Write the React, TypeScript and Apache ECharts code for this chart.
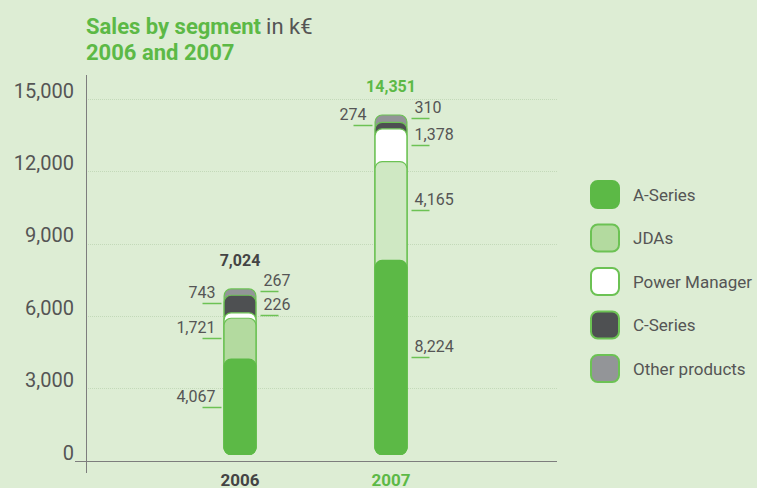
import React, { useEffect, useRef } from "react";
import * as echarts from "echarts";

const years = ["2006", "2007"];
const segmentNames = ["A-Series", "JDAs", "Power Manager", "C-Series", "Other products"];
const aSeries = [4067, 8224];
const jdas = [1721, 4165];
const powerManager = [226, 1378];
const cSeries = [743, 274];
const otherProducts = [267, 310];
const segmentValues = [aSeries, jdas, powerManager, cSeries, otherProducts];

// label side per year per segment (0 = left, 1 = right)
const labelSides = [
  [0, 0, 1, 0, 1],
  [1, 1, 1, 0, 1],
];

const FONT = "Roboto";
const GREEN = "#5cb946";
const BORDER = "#6cc254";
const TEXT = "#555555";
const segmentColors = [
  [GREEN, GREEN],
  ["#b3da9f", "#cfe8c3"],
  ["#ffffff", "#ffffff"],
  ["#4e5052", "#4e5052"],
  ["#939598", "#939598"],
];
const totalColors = ["#444444", GREEN];
const BAR_W = 33;

const fmt = (v: number) => Math.round(v).toLocaleString("en-US");

function cumTop(i: number, j: number) {
  let s = 0;
  for (let k = 0; k <= i; k++) s += segmentValues[k][j];
  return s;
}

export default function App() {
  const ref = useRef<HTMLDivElement>(null);
  useEffect(() => {
    document.body.style.margin = "0";
    const chart = echarts.init(ref.current!, null, { renderer: "svg" });

    const barSeries = segmentNames.map((name, i) => ({
      type: "bar",
      name,
      xAxisIndex: 1,
      yAxisIndex: 1,
      barWidth: BAR_W,
      barGap: "-100%",
      z: 10 - i,
      itemStyle: {
        color: segmentColors[i][0],
        borderColor: i === 0 ? GREEN : BORDER,
        borderWidth: 1.2,
        borderRadius: 7,
      },
      data: years.map((_, j) => {
        const item: any = {
          value: cumTop(i, j),
          itemStyle: { color: segmentColors[i][j] },
        };
        if (i === segmentNames.length - 1) {
          item.label = {
            show: true,
            position: "top",
            distance: 20,
            formatter: (p: any) => fmt(p.value),
            color: totalColors[j],
            fontFamily: FONT,
            fontWeight: "bold",
            fontSize: 16,
          };
        }
        return item;
      }),
    }));

    const labelData: number[][] = [];
    years.forEach((_, j) => {
      segmentNames.forEach((__, i) => {
        const top = cumTop(i, j);
        const bottom = top - segmentValues[i][j];
        labelData.push([j, bottom, top, segmentValues[i][j], labelSides[j][i]]);
      });
    });

    const option: any = {
      animation: false,
      backgroundColor: "#ddedd4",
      title: {
        left: 86,
        top: 13,
        padding: 0,
        text: "{g|Sales by segment} {n|in k€}\n{g|2006 and 2007}",
        textStyle: {
          rich: {
            g: { fontSize: 22, fontWeight: "bold", color: GREEN, fontFamily: FONT, lineHeight: 26 },
            n: { fontSize: 22, fontWeight: "normal", color: TEXT, fontFamily: FONT, lineHeight: 26 },
          },
        },
      },
      legend: {
        data: segmentNames,
        orient: "vertical",
        left: 590,
        top: 180,
        padding: 0,
        itemWidth: 28,
        itemHeight: 27,
        itemGap: 14.5,
        icon: "roundRect",
        selectedMode: false,
        textStyle: { color: TEXT, fontSize: 17, fontFamily: FONT, padding: [0, 0, 0, 9] },
      },
      grid: [
        { left: 86, right: 200, top: 99, bottom: 27 },
        { left: 164.5, right: 290.5, top: 99, bottom: 27 },
      ],
      xAxis: [
        { type: "value", gridIndex: 0, min: 0, max: 1, show: false },
        {
          type: "category",
          gridIndex: 1,
          data: years,
          axisLine: { show: false },
          axisTick: { show: false },
          axisLabel: {
            margin: 16,
            formatter: (v: string, idx: number) => `{y${idx}|${v}}`,
            rich: {
              y0: { color: "#444444", fontWeight: "bold", fontSize: 17, fontFamily: FONT },
              y1: { color: GREEN, fontWeight: "bold", fontSize: 17, fontFamily: FONT },
            },
          },
        },
      ],
      yAxis: [
        {
          type: "value",
          gridIndex: 0,
          min: 0,
          max: 15000,
          interval: 3000,
          axisLine: { show: false },
          axisTick: { show: false },
          splitLine: { show: true, lineStyle: { color: "#c3d9b9", type: "dotted" } },
          axisLabel: {
            color: TEXT,
            fontSize: 20,
            fontFamily: FONT,
            margin: 12,
            verticalAlign: "bottom",
            lineHeight: 17,
            formatter: (v: number) => fmt(v),
          },
        },
        { type: "value", gridIndex: 1, min: 0, max: 15000, interval: 3000, show: false },
      ],
      graphic: [
        { type: "line", shape: { x1: 86.5, y1: 75, x2: 86.5, y2: 473 }, style: { stroke: "#7d7d7d", lineWidth: 1 }, z: 20 },
        { type: "line", shape: { x1: 75, y1: 461.5, x2: 557, y2: 461.5 }, style: { stroke: "#7d7d7d", lineWidth: 1 }, z: 20 },
      ],
      series: [
        ...barSeries,
        {
          type: "custom",
          name: "labels",
          xAxisIndex: 1,
          yAxisIndex: 1,
          z: 20,
          silent: true,
          encode: { x: 0, y: [1, 2] },
          data: labelData,
          renderItem: (params: any, api: any) => {
            const cat = api.value(0);
            const lo = api.value(1);
            const hi = api.value(2);
            const v = api.value(3);
            const side = api.value(4);
            const p = api.coord([cat, (lo + hi) / 2]);
            const half = BAR_W / 2;
            const y = Math.round(p[1]) + 0.5;
            let x1, x2, tx, align;
            if (side === 0) {
              x1 = p[0] - half - 21;
              x2 = p[0] - half - 2;
              tx = p[0] - half - 8;
              align = "right";
            } else {
              x1 = p[0] + half + 4;
              x2 = p[0] + half + 22;
              tx = p[0] + half + 7;
              align = "left";
            }
            return {
              type: "group",
              children: [
                { type: "line", shape: { x1, y1: y, x2, y2: y }, style: { stroke: BORDER, lineWidth: 1.5 } },
                {
                  type: "text",
                  style: {
                    text: fmt(v),
                    x: tx,
                    y: y - 3,
                    align,
                    verticalAlign: "bottom",
                    fill: TEXT,
                    fontSize: 16,
                    fontFamily: FONT,
                  },
                },
              ],
            };
          },
        },
      ],
    };
    chart.setOption(option);
    return () => chart.dispose();
  }, []);
  return <div ref={ref} style={{ position: "fixed", left: 0, top: 0, width: 757, height: 488 }} />;
}
